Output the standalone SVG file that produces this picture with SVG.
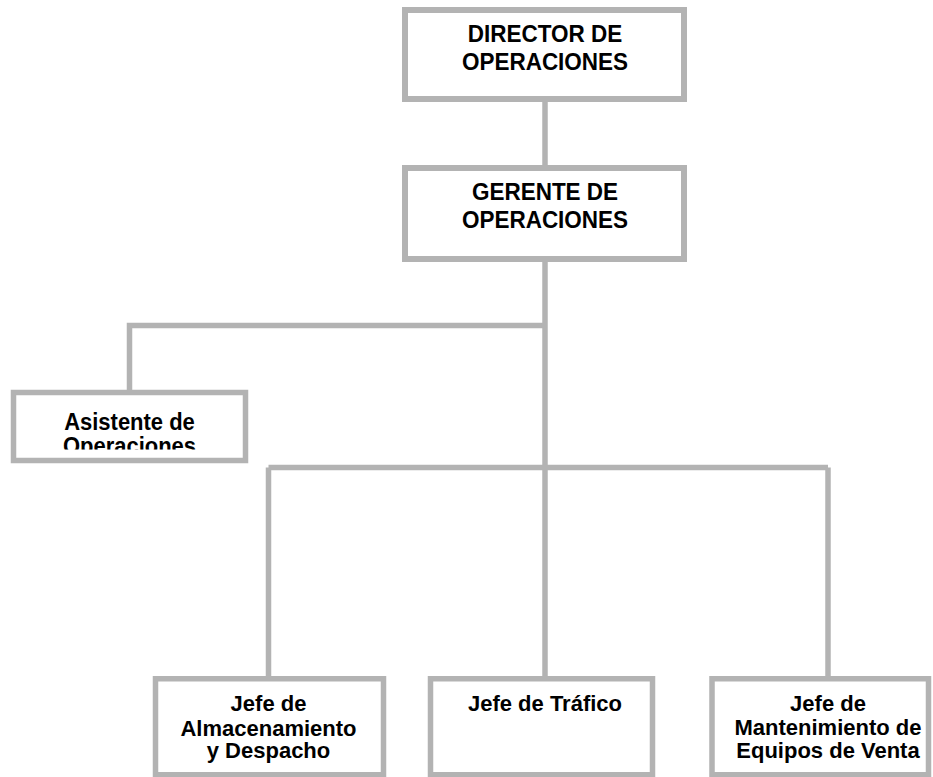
<svg xmlns="http://www.w3.org/2000/svg" width="933" height="777" viewBox="0 0 933 777">
  <style>
    .box { fill: #ffffff; stroke: #b3b3b3; stroke-width: 5.5; }
    .big { stroke-width: 6; }
    .conn { fill: none; stroke: #b3b3b3; stroke-width: 5.5; }
    .t { font-family: "Liberation Sans", Arial, sans-serif; font-weight: bold; font-size: 22px; fill: #000000; text-anchor: middle; }
    .tb { font-size: 22.5px; }
  </style>
  <defs>
    <clipPath id="clipAsist">
      <rect x="0" y="380" width="260" height="69.5"/>
    </clipPath>
  </defs>
  <rect width="933" height="777" fill="#ffffff"/>
  <g id="connectors">
    <line class="conn" x1="545" y1="100" x2="545" y2="168"/>
    <line class="conn" x1="545" y1="258" x2="545" y2="678"/>
    <polyline class="conn" points="545,325.5 129.5,325.5 129.5,392"/>
    <line class="conn" x1="268.5" y1="467.5" x2="828" y2="467.5"/>
    <line class="conn" x1="268.5" y1="467.5" x2="268.5" y2="678"/>
    <line class="conn" x1="828" y1="467.5" x2="828" y2="678"/>
  </g>
  <g id="director">
    <rect class="box big" x="405" y="10" width="279" height="89"/>
    <text class="t tb" transform="translate(545,42) scale(1,1.08)">DIRECTOR DE</text>
    <text class="t tb" transform="translate(545,70) scale(1,1.08)">OPERACIONES</text>
  </g>
  <g id="gerente">
    <rect class="box big" x="405" y="168" width="279" height="91"/>
    <text class="t tb" transform="translate(545,200) scale(1,1.08)">GERENTE DE</text>
    <text class="t tb" transform="translate(545,228) scale(1,1.08)">OPERACIONES</text>
  </g>
  <g id="asistente">
    <rect class="box" x="13.5" y="392.5" width="232" height="68"/>
    <g clip-path="url(#clipAsist)">
      <text class="t" transform="translate(129.5,429.5) scale(1,1.08)">Asistente de</text>
      <text class="t" transform="translate(129.5,454) scale(1,1.08)">Operaciones</text>
    </g>
  </g>
  <g id="almacenamiento">
    <rect class="box" x="155.5" y="678.75" width="228" height="96"/>
    <text class="t" x="268.5" y="711">Jefe de</text>
    <text class="t" x="268.5" y="735.5">Almacenamiento</text>
    <text class="t" x="268.5" y="758">y Despacho</text>
  </g>
  <g id="trafico">
    <rect class="box" x="430.5" y="678.75" width="222" height="96"/>
    <text class="t" x="545" y="710.5">Jefe de Tráfico</text>
  </g>
  <g id="mantenimiento">
    <rect class="box" x="712" y="678.75" width="216.5" height="96"/>
    <text class="t" x="828" y="711">Jefe de</text>
    <text class="t" x="828" y="735">Mantenimiento de</text>
    <text class="t" x="828" y="758">Equipos de Venta</text>
  </g>
</svg>
